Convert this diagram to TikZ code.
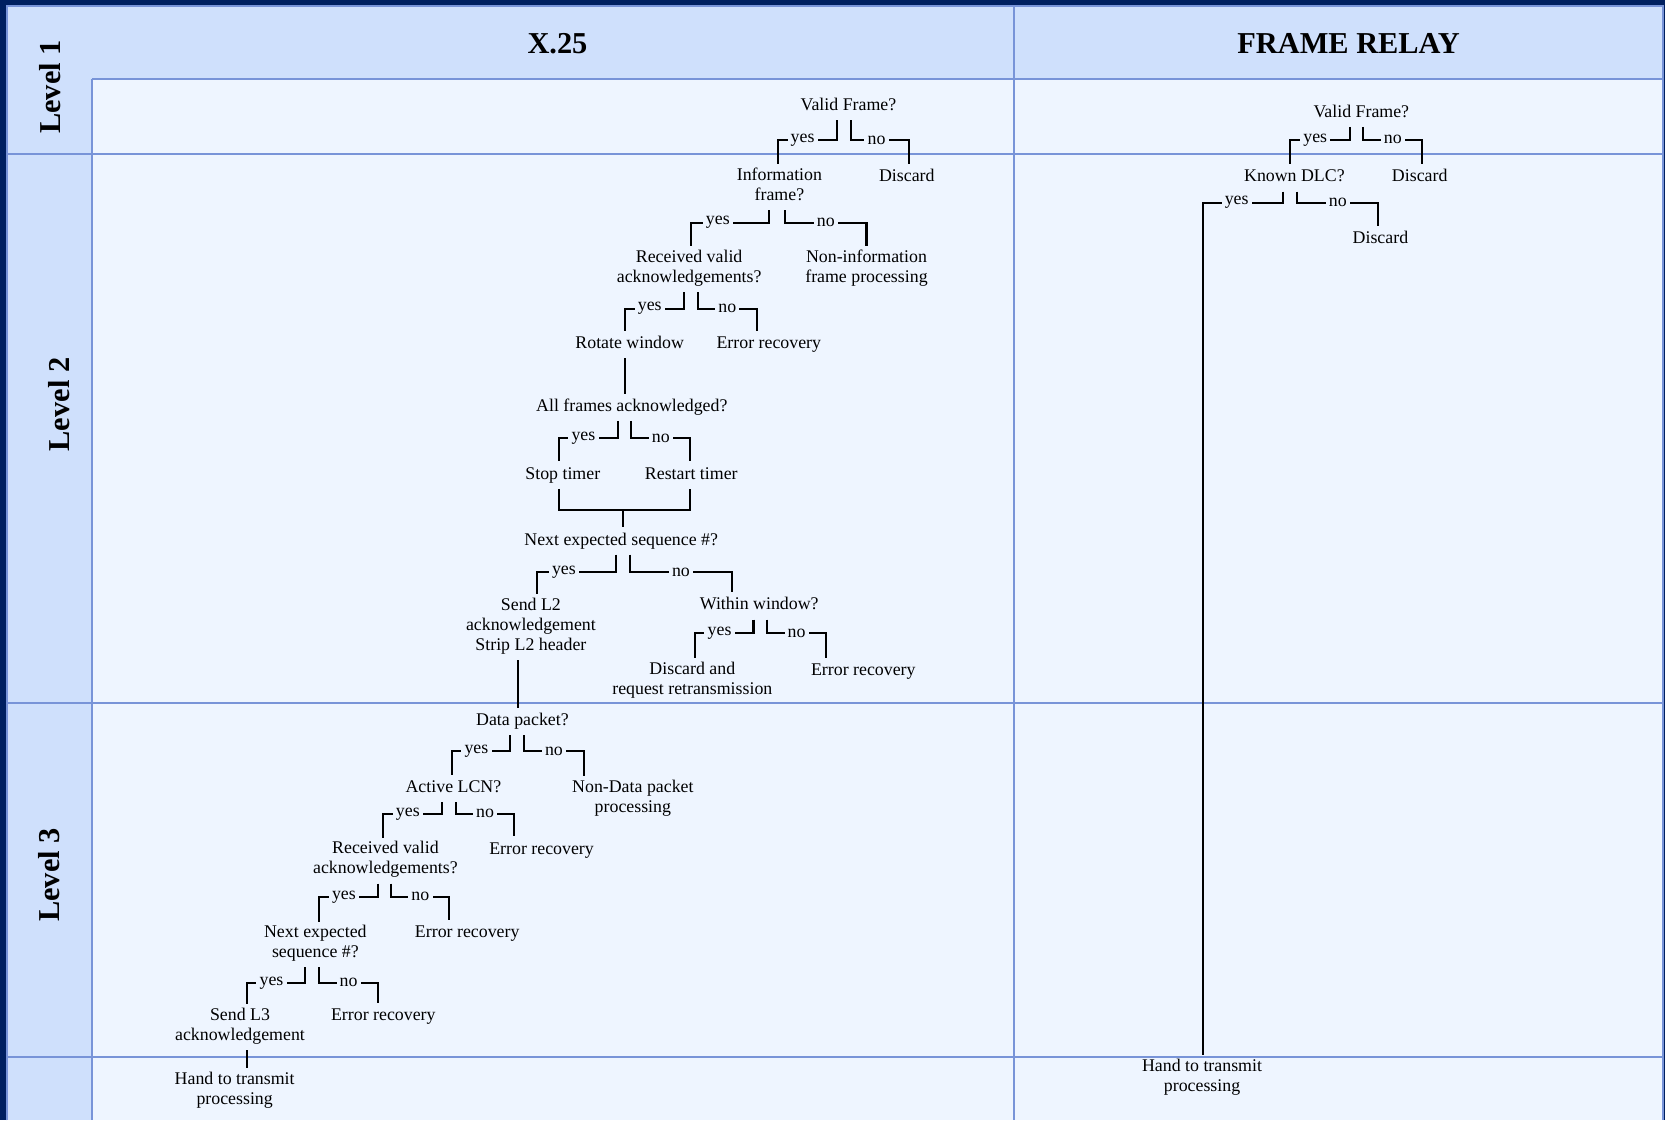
\documentclass[tikz,border=0pt]{standalone}
\usepackage{fontspec}
\setmainfont{Liberation Serif}
\usepackage{xcolor}
\usepackage{tikz}

\definecolor{navy}{RGB}{0,32,96}
\definecolor{hdrbg}{RGB}{207,224,252}
\definecolor{cellbg}{RGB}{238,245,255}
\definecolor{gridln}{RGB}{120,148,216}

\begin{document}
\begin{tikzpicture}[x=0.5pt, y=-0.5pt,
    every node/.style={font=\fontsize{8.4}{9.5}\selectfont},
    txt/.style={align=center, inner sep=1.5pt, yshift=-1.25pt, execute at begin node=\strut, execute at end node=\strut},
    lbl/.style={fill=cellbg, inner xsep=1.5pt, inner ysep=0.5pt},
    ylbl/.style={lbl, pos=0.29},
    nlbl/.style={lbl, pos=0.25},
    hdr/.style={font=\fontsize{14.3}{16}\selectfont\bfseries},
    flow/.style={line width=0.95pt},
    gridline/.style={draw=gridln, line width=1pt}]

    % table
    \useasboundingbox (0,0) rectangle (1568,1055);
    \fill[navy] (0,0) rectangle (1568,1055);
    \fill[hdrbg] (7,6) rectangle (1566,1055);
    \fill[cellbg] (87,74) rectangle (1566,1055);
    \draw[gridline] (7,1055) -- (7,6) -- (1566,6) -- (1566,1055);
    \draw[gridline] (87,74) -- (1566,74);
    \draw[gridline] (87,74) -- (87,1055);
    \draw[gridline] (955,6) -- (955,1055);
    \foreach \y in {145,662,995}
        \draw[gridline] (7,\y) -- (1566,\y);

    \node[hdr] (x25) at (525,41) {X.25};
    \node[hdr] (fr) at (1270,41) {FRAME RELAY};
    \node[hdr, rotate=90] (lvl1) at (47,82) {Level 1};
    \node[hdr, rotate=90] (lvl2) at (56,381) {Level 2};
    \node[hdr, rotate=90] (lvl3) at (46,824) {Level 3};

    % X.25, levels 1 and 2
    \node[txt] (vfa) at (799,98) {Valid Frame?};
    \node[txt] (info) at (734,174) {Information\\frame?};
    \node[txt] (disca) at (854,165) {Discard};
    \node[txt] (rvaa) at (649,251) {Received valid\\acknowledgements?};
    \node[txt] (noninfo) at (816,251) {Non-information\\frame processing};
    \node[txt] (rot) at (593,322) {Rotate window};
    \node[txt] (erra) at (724,322) {Error recovery};
    \node[txt] (afa) at (595,381) {All frames acknowledged?};
    \node[txt] (stop) at (530,445) {Stop timer};
    \node[txt] (restart) at (651,445) {Restart timer};
    \node[txt] (nesa) at (585,507) {Next expected sequence \#?};
    \node[txt] (sendtwo) at (500,588) {Send L2\\acknowledgement\\Strip L2 header};
    \node[txt] (ww) at (715,568) {Within window?};
    \node[txt] (dar) at (652,639) {Discard and\\request retransmission};
    \node[txt] (errb) at (813,630) {Error recovery};

    % X.25, level 3
    \node[txt] (dp) at (492,677) {Data packet?};
    \node[txt] (lcn) at (427,740) {Active LCN?};
    \node[txt] (ndp) at (596,750) {Non-Data packet\\processing};
    \node[txt] (rvab) at (363,808) {Received valid\\acknowledgements?};
    \node[txt] (errc) at (510,798) {Error recovery};
    \node[txt] (nesb) at (297,887) {Next expected\\sequence \#?};
    \node[txt] (errd) at (440,877) {Error recovery};
    \node[txt] (sendthree) at (226,965) {Send L3\\acknowledgement};
    \node[txt] (erre) at (361,955) {Error recovery};
    \node[txt] (handa) at (221,1025) {Hand to transmit\\processing};

    % frame relay
    \node[txt] (vfb) at (1282,104) {Valid Frame?};
    \node[txt] (dlc) at (1219,165) {Known DLC?};
    \node[txt] (discb) at (1337,165) {Discard};
    \node[txt] (discc) at (1300,223) {Discard};
    \node[txt] (handb) at (1132,1013) {Hand to transmit\\processing};

    % X.25 branches
    \draw[flow] ([xshift=-5.5pt]vfa.south) -- ++(0,18.5) -| node[ylbl]{yes} ([xshift=-0.75pt]info.north);
    \draw[flow] ([xshift=1.25pt]vfa.south) -- ++(0,18.5) -| node[nlbl, pos=0.22]{no} ([xshift=1pt]disca.north);
    \draw[flow] ([xshift=-4.75pt]info.south) -- ++(0,11.5) -| node[ylbl, pos=0.33]{yes} ([xshift=1pt]rvaa.north);
    \draw[flow] ([xshift=2.75pt]info.south) -- ++(0,11.5) -| node[nlbl]{no} (noninfo.north);
    \draw[flow] ([xshift=-2.5pt]rvaa.south) -- ++(0,15.5) -| node[ylbl]{yes} ([xshift=-2.2pt]rot.north);
    \draw[flow] ([xshift=4.2pt]rvaa.south) -- ++(0,15.5) -| node[nlbl]{no} ([xshift=-5.7pt]erra.north);
    \draw[flow] ([xshift=-2.2pt]rot.south) -- ([xshift=-2.2pt]rot.south |- afa.north);
    \draw[flow] ([xshift=-6.6pt]afa.south) -- ++(0,16) -| node[ylbl]{yes} ([xshift=-2pt]stop.north);
    \draw[flow] ([xshift=-0.2pt]afa.south) -- ++(0,16) -| node[nlbl]{no} ([xshift=-0.5pt]restart.north);
    \draw[flow] ([xshift=-2pt]stop.south) -- ++(0,19.5) -| ([xshift=-0.5pt]restart.south);
    \coordinate (join) at (587,480);
    \draw[flow] (join) -- (join |- nesa.north);
    \draw[flow] ([xshift=-2.4pt]nesa.south) -- ++(0,16.5) -| node[ylbl, pos=0.33]{yes} ([xshift=2.9pt]sendtwo.north);
    \draw[flow] ([xshift=4.2pt]nesa.south) -- ++(0,16.5) -| node[nlbl]{no} ([xshift=-12.9pt]ww.north);
    \draw[flow] ([xshift=-2.7pt]ww.south) -- ++(0,13) -| node[ylbl]{yes} ([xshift=1.25pt]dar.north);
    \draw[flow] ([xshift=3.6pt]ww.south) -- ++(0,13) -| node[nlbl]{no} ([xshift=-17.4pt]errb.north);
    \draw[flow] ([xshift=-6.3pt]sendtwo.south) -- ([xshift=-6.3pt]sendtwo.south |- dp.north);
    \draw[flow] ([xshift=-5.7pt]dp.south) -- ++(0,15.2) -| node[ylbl]{yes} ([xshift=-0.7pt]lcn.north);
    \draw[flow] ([xshift=0.9pt]dp.south) -- ++(0,15.2) -| node[nlbl]{no} ([xshift=-23.2pt]ndp.north);
    \draw[flow] ([xshift=-5.5pt]lcn.south) -- ++(0,11) -| node[ylbl]{yes} ([xshift=-1pt]rvab.north);
    \draw[flow] ([xshift=1.1pt]lcn.south) -- ++(0,11) -| node[nlbl]{no} ([xshift=-12.75pt]errc.north);
    \draw[flow] ([xshift=-3.45pt]rvab.south) -- ++(0,12.5) -| node[ylbl]{yes} ([xshift=1.75pt]nesb.north);
    \draw[flow] ([xshift=2.8pt]rvab.south) -- ++(0,12.5) -| node[nlbl]{no} ([xshift=-8.4pt]errd.north);
    \draw[flow] ([xshift=-4.85pt]nesb.south) -- ++(0,14.5) -| node[ylbl]{yes} ([xshift=3.4pt]sendthree.north);
    \draw[flow] ([xshift=1.75pt]nesb.south) -- ++(0,14.5) -| node[nlbl]{no} ([xshift=-2.45pt]erre.north);
    \draw[flow] ([xshift=3.4pt]sendthree.south) -- ([xshift=3.4pt]sendthree.south |- handa.north);

    % frame relay branches
    \draw[flow] ([xshift=-5.5pt]vfb.south) -- ++(0,12.2) -| node[ylbl]{yes} ([xshift=-1.9pt]dlc.north);
    \draw[flow] ([xshift=0.8pt]vfb.south) -- ++(0,12.2) -| node[nlbl]{no} ([xshift=1.3pt]discb.north);
    \draw[flow] ([xshift=-5.35pt]dlc.south) -- ++(0,10.5) -| node[ylbl]{yes} ([xshift=0.5pt]handb.north);
    \draw[flow] ([xshift=1.4pt]dlc.south) -- ++(0,10.5) -| node[nlbl]{no} ([xshift=-1pt]discc.north);
\end{tikzpicture}
\end{document}
